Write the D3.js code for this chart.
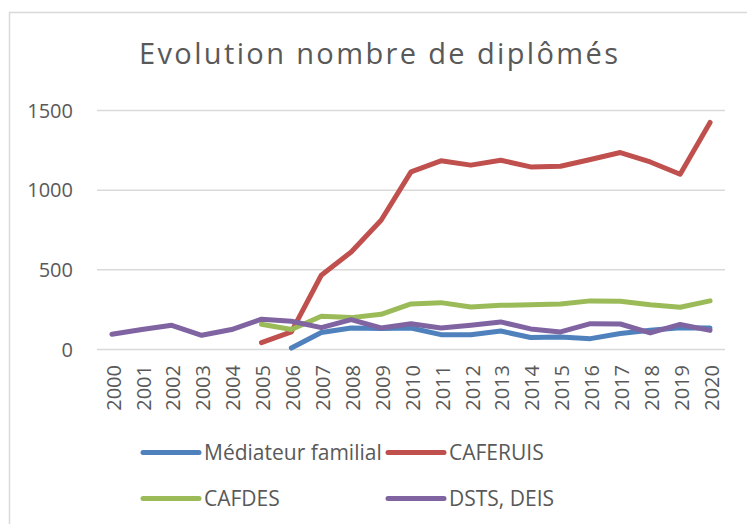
<!DOCTYPE html>
<html>
<head>
<meta charset="utf-8">
<script src="https://cdn.jsdelivr.net/npm/d3@7"></script>
<style>
  body { margin: 0; background: #fff; }
  text { font-family: "Open Sans", sans-serif; fill: #595959; }
</style>
</head>
<body>
<div id="chart"></div>
<script>
// years on the x axis
var years = ["2000","2001","2002","2003","2004","2005","2006","2007","2008","2009","2010",
             "2011","2012","2013","2014","2015","2016","2017","2018","2019","2020"];

// values (null = no data)
var mediateur = [null,null,null,null,null,null,6,103,132,128,132,90,90,113,72,76,65,97,117,134,132];
var caferuis  = [null,null,null,null,null,40,107,463,609,808,1112,1181,1154,1185,1143,1147,1189,1233,1174,1097,1422];
var cafdes    = [null,null,null,null,null,155,122,205,197,218,283,291,264,274,278,283,302,300,278,262,302];
var dsts      = [92,122,149,86,122,187,174,134,184,132,159,132,149,170,126,107,159,157,101,154,117];

var yTicks = [0, 500, 1000, 1500];

var series = [
    {name: "Médiateur familial", values: mediateur, color: "#4f81bd"},
    {name: "CAFERUIS", values: caferuis, color: "#c0504d"},
    {name: "CAFDES", values: cafdes, color: "#9bbb59"},
    {name: "DSTS, DEIS", values: dsts, color: "#8064a2"}
];

var width = 747, height = 524;

var svg = d3.select("#chart")
    .append("svg")
    .attr("width", width)
    .attr("height", height);

// chart frame (only left and top edges visible in the crop)
svg.append("path")
    .attr("d", "M9.5," + height + "V12.5H" + width)
    .attr("fill", "none")
    .attr("stroke", "#d9d9d9")
    .attr("stroke-width", 1.5);

// title
svg.append("text")
    .attr("x", 378.5)
    .attr("y", 64)
    .attr("text-anchor", "middle")
    .attr("textLength", 479)
    .attr("lengthAdjust", "spacing")
    .style("font-size", "29px")
    .text("Evolution nombre de diplômés");

var x = d3.scaleBand()
    .domain(years)
    .range([97, 725]);

var y = d3.scaleLinear()
    .domain([0, 1500])
    .range([349, 110]);

// gridlines
svg.append("g")
    .selectAll("line")
    .data(yTicks)
    .enter()
    .append("line")
    .attr("x1", 97)
    .attr("x2", 725)
    .attr("y1", d => y(d) + 0.5)
    .attr("y2", d => y(d) + 0.5)
    .attr("stroke", "#d9d9d9")
    .attr("stroke-width", 1.5);

// y labels
var yAxis = svg.append("g")
    .attr("transform", "translate(97,0)")
    .call(d3.axisLeft(y).tickValues(yTicks).tickSize(0).tickPadding(24).tickFormat(d3.format("d")));
yAxis.select(".domain").remove();
yAxis.selectAll("text")
    .attr("dy", "0.36em")
    .style("font-size", "20px")
    .style("font-family", "'Open Sans', sans-serif")
    .attr("fill", "#595959");

// x labels, rotated
var xAxis = svg.append("g")
    .attr("transform", "translate(0,349)")
    .call(d3.axisBottom(x).tickSize(0));
xAxis.select(".domain").remove();
xAxis.selectAll("text")
    .attr("transform", "translate(1.5,16) rotate(-90)")
    .attr("x", 0)
    .attr("y", 0)
    .attr("dy", "0.36em")
    .style("text-anchor", "end")
    .style("font-size", "20px")
    .style("font-family", "'Open Sans', sans-serif")
    .attr("fill", "#595959");

var line = d3.line()
    .defined(d => d.v !== null)
    .x(d => x(d.year) + x.bandwidth() / 2)
    .y(d => y(d.v));

svg.append("g")
    .selectAll("path")
    .data(series)
    .enter()
    .append("path")
    .attr("d", s => line(s.values.map((v, i) => ({year: years[i], v: v}))))
    .attr("fill", "none")
    .attr("stroke", s => s.color)
    .attr("stroke-width", 5)
    .attr("stroke-linecap", "round")
    .attr("stroke-linejoin", "round");

// legend
var legendPos = [[143, 452.5], [388, 452.5], [143, 498.5], [388, 498.5]];
var legend = svg.append("g")
    .selectAll("g")
    .data(series)
    .enter()
    .append("g")
    .attr("transform", (d, i) => "translate(" + legendPos[i][0] + "," + legendPos[i][1] + ")");

legend.append("line")
    .attr("x1", 0)
    .attr("x2", 56)
    .attr("stroke", d => d.color)
    .attr("stroke-width", 5)
    .attr("stroke-linecap", "round");

legend.append("text")
    .attr("x", 61)
    .attr("dy", "0.36em")
    .style("font-size", "21px")
    .text(d => d.name);
</script>
</body>
</html>
